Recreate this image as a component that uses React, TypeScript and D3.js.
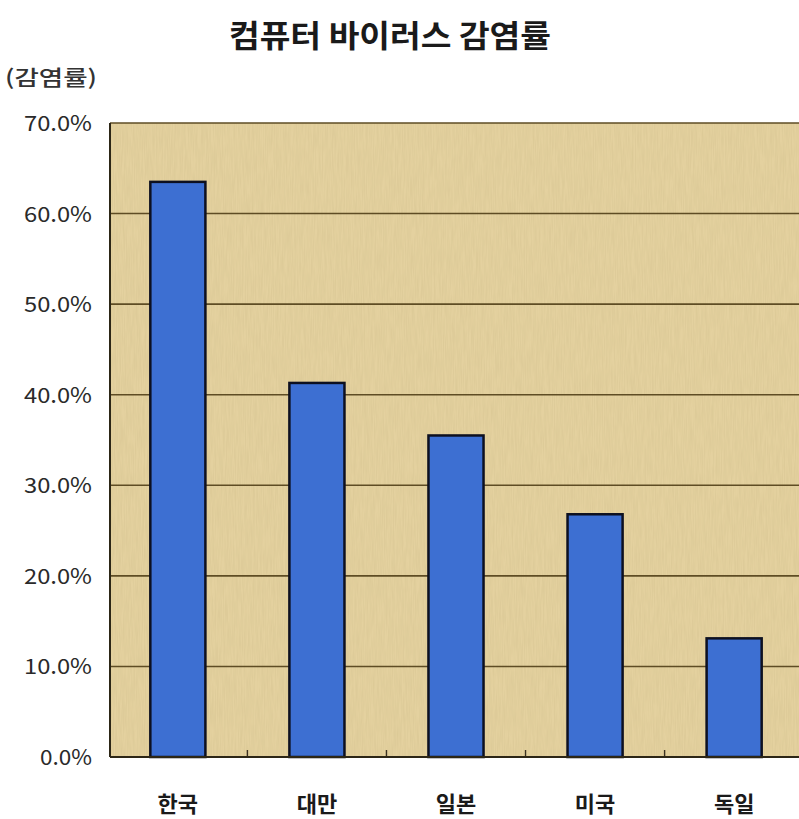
import React from "react";
import * as d3 from "d3";

const title = "컴퓨터 바이러스 감염률";
const yAxisTitle = "(감염률)";
const categories = ["한국", "대만", "일본", "미국", "독일"];
const values = [0.635, 0.413, 0.355, 0.268, 0.131];
const yTicks = [0, 0.1, 0.2, 0.3, 0.4, 0.5, 0.6, 0.7];

const W = 799;
const H = 819;
const left = 110;
const top = 123;
const bottom = 757;
const right = 802;

export default function App() {
  const y = d3.scaleLinear().domain([0, 0.7]).range([bottom, top]);
  const x = d3
    .scaleBand<string>()
    .domain(categories)
    .range([left, right])
    .paddingInner(0.604)
    .paddingOuter(0.29);
  const step = x.step();
  const fmt = d3.format(".1%");
  const font = "'Noto Sans CJK KR', 'Noto Sans', sans-serif";
  const boundaries = categories.slice(1).map((c) => (x(c) as number) - (step - x.bandwidth()) / 2);

  return (
    <svg width={W} height={H} style={{ position: "absolute", left: 0, top: 0, background: "#fff" }}>
      <defs>
        <filter id="paper" x="0" y="0" width="100%" height="100%">
          <feTurbulence type="fractalNoise" baseFrequency="0.9 0.04" numOctaves="3" seed="4" result="n" />
          <feColorMatrix
            in="n"
            type="matrix"
            values="0 0 0 0 0.55  0 0 0 0 0.45  0 0 0 0 0.2  0 0 0 0.45 -0.12"
            result="c"
          />
          <feComposite in="c" in2="SourceGraphic" operator="atop" />
        </filter>
      </defs>
      <text
        x={390}
        y={47}
        textAnchor="middle"
        fontFamily={font}
        fontWeight={700}
        fontSize={31}
        fill="#1a1a1a"
        textLength={322}
        lengthAdjust="spacingAndGlyphs"
      >
        {title}
      </text>
      <text x={5} y={85} fontFamily={font} fontSize={21} fontWeight={500} fill="#333" textLength={92} lengthAdjust="spacingAndGlyphs">
        {yAxisTitle}
      </text>
      <rect x={left} y={top} width={W - left + 10} height={bottom - top} fill="#e4d19f" />
      <rect x={left} y={top} width={W - left + 10} height={bottom - top} fill="#e4d19f" filter="url(#paper)" opacity={0.85} />
      {yTicks.slice(1, -1).map((t) => (
        <line key={t} x1={left} x2={W} y1={y(t)} y2={y(t)} stroke="#5e4c24" strokeWidth={1.6} />
      ))}
      <line x1={left} x2={W} y1={top} y2={top} stroke="#5e4c24" strokeWidth={1.6} />
      {boundaries.map((bx, i) => (
        <line key={i} x1={bx} x2={bx} y1={bottom} y2={bottom - 7} stroke="#3a3020" strokeWidth={1.4} />
      ))}
      {categories.map((c, i) => (
        <rect
          key={c}
          x={x(c)}
          y={y(values[i])}
          width={x.bandwidth()}
          height={bottom - y(values[i])}
          fill="#3d6fd2"
          stroke="#0d1020"
          strokeWidth={2.5}
        />
      ))}
      <line x1={left} x2={left} y1={top} y2={bottom} stroke="#2c2616" strokeWidth={2} />
      <line x1={left} x2={W} y1={bottom} y2={bottom} stroke="#2c2616" strokeWidth={2} />
      {yTicks.map((t) => (
        <text
          key={t}
          x={92}
          y={y(t) + 8}
          textAnchor="end"
          fontFamily={font}
          fontSize={21}
          fill="#2a2a2a"
          textLength={fmt(t).length === 5 ? 68 : 52}
          lengthAdjust="spacingAndGlyphs"
        >
          {fmt(t)}
        </text>
      ))}
      {categories.map((c) => (
        <text
          key={c}
          x={(x(c) as number) + x.bandwidth() / 2}
          y={812}
          textAnchor="middle"
          fontFamily={font}
          fontSize={22}
          fontWeight={700}
          fill="#1a1a1a"
        >
          {c}
        </text>
      ))}
    </svg>
  );
}
